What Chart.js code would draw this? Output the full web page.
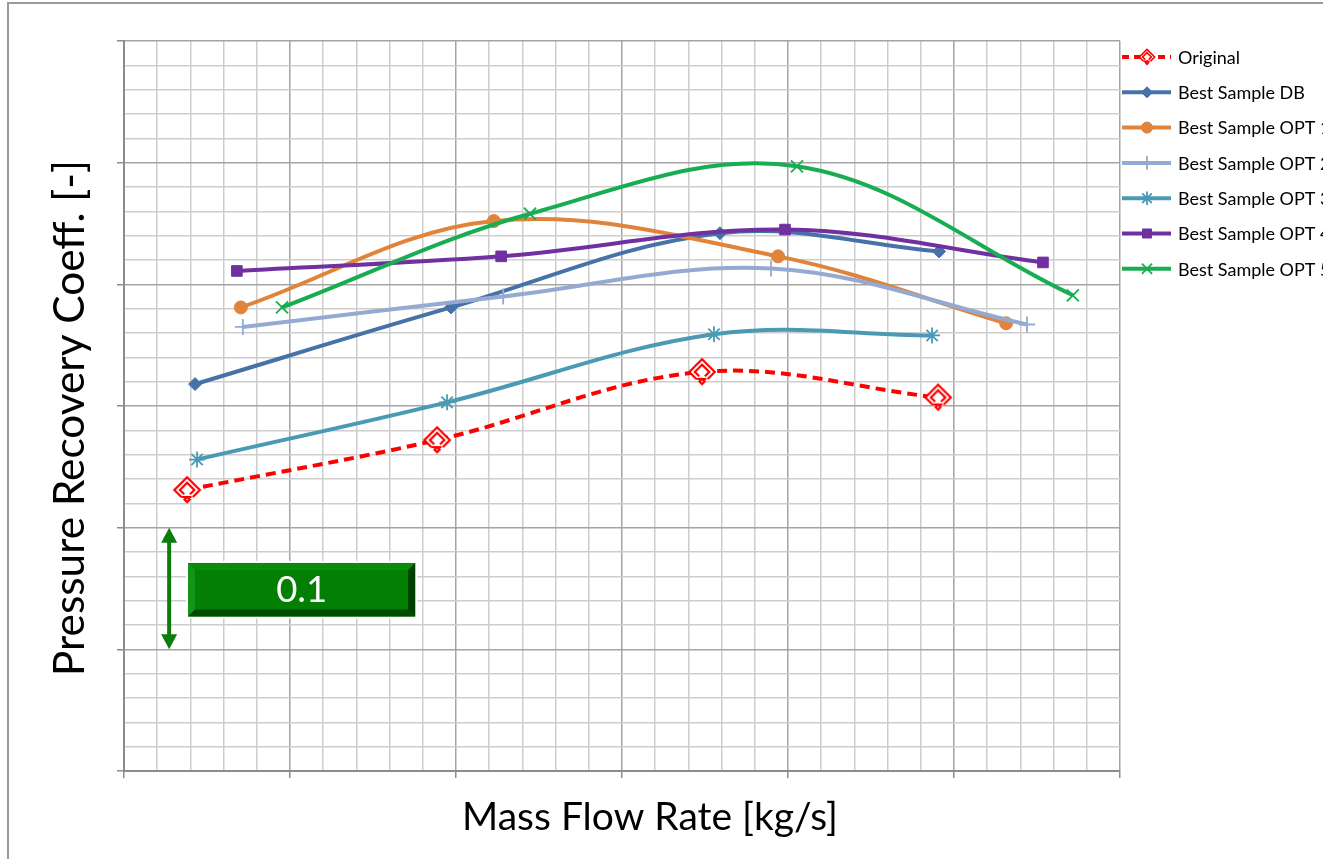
<!DOCTYPE html>
<html><head><meta charset="utf-8">
<script src="https://cdn.jsdelivr.net/npm/chart.js@4/dist/chart.umd.min.js"></script>
<style>html,body{margin:0;padding:0;background:#fff;overflow:hidden}#wrap{width:1323px;height:859px;position:relative}</style>
</head><body><div id="wrap"><canvas id="c" width="1323" height="859"></canvas></div>
<script>
// ---- data ----
const seriesNames = ['Original','Best Sample DB','Best Sample OPT 1','Best Sample OPT 2','Best Sample OPT 3','Best Sample OPT 4','Best Sample OPT 5'];
const originalX = [1.90, 9.43, 17.41, 24.52];
const originalY = [0.231, 0.272, 0.328, 0.307];
const dbX = [2.14, 9.85, 17.95, 24.55];
const dbY = [0.318, 0.381, 0.442, 0.427];
const opt1X = [3.52, 11.14, 19.70, 26.57];
const opt1Y = [0.381, 0.452, 0.423, 0.368];
const opt2X = [3.58, 11.42, 19.49, 27.20];
const opt2Y = [0.365, 0.390, 0.413, 0.367];
const opt3X = [2.20, 9.73, 17.77, 24.34];
const opt3Y = [0.256, 0.303, 0.359, 0.358];
const opt4X = [3.40, 11.36, 19.91, 27.68];
const opt4Y = [0.411, 0.423, 0.445, 0.418];
const opt5X = [4.76, 12.23, 20.27, 28.58];
const opt5Y = [0.381, 0.458, 0.497, 0.391];
const xTitle = 'Mass Flow Rate [kg/s]';
const yTitle = 'Pressure Recovery Coeff. [-]';
const scaleLabel = '0.1';

const pairs = (xs, ys) => xs.map((x, i) => ({x, y: ys[i]}));

// picture-like marker for "Original"
function makeGlyph(s, lw) {
  const c = document.createElement('canvas'); c.width = c.height = s;
  const g = c.getContext('2d');
  g.translate(s/2, s/2); g.rotate(Math.PI/4);
  const a = s*0.30, b = s*0.17;
  g.fillStyle = '#fff'; g.fillRect(-a, -a, 2*a, 2*a);
  g.strokeStyle = '#ff0000'; g.lineWidth = lw;
  g.beginPath(); g.moveTo(a, a*0.1); g.lineTo(a, -a); g.lineTo(-a, -a); g.lineTo(-a, a); g.lineTo(a*0.1, a); g.stroke();
  g.beginPath(); g.moveTo(b, b*0.2); g.lineTo(b, -b); g.lineTo(-b, -b); g.lineTo(-b, b); g.lineTo(b*0.2, b); g.stroke();
  g.beginPath(); g.moveTo(a*0.1, a); g.lineTo(a*0.9, a*0.2); g.stroke();
  g.beginPath(); g.rect(a*0.55, a*0.55, a*0.4, a*0.4); g.stroke();
  return c;
}
const glyphBig = makeGlyph(30, 2.2), glyphSmall = makeGlyph(18, 1.6);

const colors = ['#ff0000','#4672a8','#e0843c','#94aad2','#4a9ab4','#7030a0','#18ad52'];
const styles = [glyphBig,'rectRot','circle','cross','star','rect','crossRot'];
const radii = [8,6.5,6.5,8,8,7.5,8.5];
const xsAll = [originalX, dbX, opt1X, opt2X, opt3X, opt4X, opt5X];
const ysAll = [originalY, dbY, opt1Y, opt2Y, opt3Y, opt4Y, opt5Y];

const datasets = seriesNames.map((name, i) => ({
  label: name,
  data: pairs(xsAll[i], ysAll[i]),
  borderColor: colors[i],
  backgroundColor: colors[i],
  borderWidth: 4,
  borderDash: i === 0 ? [10, 6] : [],
  pointStyle: styles[i],
  pointRadius: radii[i],
  pointBorderWidth: (i === 3 || i === 4 || i === 6) ? 1.8 : 1,
  pointBorderColor: colors[i],
  pointBackgroundColor: colors[i],
  showLine: true,
  tension: 0.36,
  order: seriesNames.length - i
}));

function fitFont(ctx, text, width, family) {
  ctx.font = '40px ' + family;
  const w = ctx.measureText(text).width;
  return 40 * width / w;
}
const FAMILY = 'Lato, "Open Sans", sans-serif';

const decor = {
  id: 'decor',
  beforeDraw(chart) {
    const ctx = chart.ctx;
    ctx.save();
    ctx.fillStyle = '#fff'; ctx.fillRect(0, 0, chart.width, chart.height);
    ctx.strokeStyle = '#9a9a9a'; ctx.lineWidth = 2;
    ctx.strokeRect(8, 3, 2000, 2000);
    ctx.restore();
  },
  afterDraw(chart) {
    const ctx = chart.ctx, xs = chart.scales.x, ys = chart.scales.y;
    ctx.save();
    // axis titles
    ctx.fillStyle = '#000'; ctx.textAlign = 'center'; ctx.textBaseline = 'middle';
    let f = fitFont(ctx, xTitle, 376, FAMILY);
    ctx.font = f + 'px ' + FAMILY; ctx.fillText(xTitle, 650, 817);
    f = fitFont(ctx, yTitle, 516, FAMILY);
    ctx.save(); ctx.translate(70, 418); ctx.rotate(-Math.PI/2);
    ctx.font = f + 'px ' + FAMILY; ctx.fillText(yTitle, 0, 0); ctx.restore();

    // legend
    const lf = fitFont(ctx, 'Original', 62, FAMILY);
    chart.data.datasets.forEach((ds, i) => {
      const y = 57 + i * 35.3;
      ctx.save();
      ctx.strokeStyle = ds.borderColor; ctx.lineWidth = 4;
      ctx.setLineDash(i === 0 ? [7, 5] : []);
      ctx.beginPath(); ctx.moveTo(1122, y); ctx.lineTo(1171, y); ctx.stroke();
      ctx.setLineDash([]);
      if (i === 0) {
        ctx.drawImage(glyphSmall, 1147 - glyphSmall.width/2, y - glyphSmall.height/2);
      } else {
        ctx.fillStyle = ds.pointBackgroundColor; ctx.strokeStyle = ds.pointBorderColor;
        ctx.lineWidth = ds.pointBorderWidth;
        Chart.helpers.drawPoint(ctx, {pointStyle: ds.pointStyle, radius: ds.pointRadius * 0.85, rotation: 0, borderWidth: ds.pointBorderWidth}, 1147, y);
      }
      ctx.restore();
      ctx.fillStyle = '#000'; ctx.textAlign = 'left'; ctx.textBaseline = 'middle';
      ctx.font = lf + 'px ' + FAMILY;
      ctx.fillText(ds.label, 1178, y + 1);
    });

    // scale annotation: double arrow spanning 0.1 and labelled box
    const ax = xs.getPixelForValue(1.36);
    const aTop = ys.getPixelForValue(0.2), aBot = ys.getPixelForValue(0.1);
    ctx.fillStyle = '#0b7d0b'; ctx.strokeStyle = '#0b7d0b'; ctx.lineWidth = 4;
    ctx.beginPath(); ctx.moveTo(ax, aTop + 12); ctx.lineTo(ax, aBot - 12); ctx.stroke();
    ctx.beginPath(); ctx.moveTo(ax, aTop); ctx.lineTo(ax - 8, aTop + 15); ctx.lineTo(ax + 8, aTop + 15); ctx.closePath(); ctx.fill();
    ctx.beginPath(); ctx.moveTo(ax, aBot); ctx.lineTo(ax - 8, aBot - 15); ctx.lineTo(ax + 8, aBot - 15); ctx.closePath(); ctx.fill();

    const bx0 = xs.getPixelForValue(1.93), bx1 = xs.getPixelForValue(8.77);
    const by0 = ys.getPixelForValue(0.171), by1 = ys.getPixelForValue(0.127);
    const bw = bx1 - bx0, bh = by1 - by0, bv = 7;
    ctx.fillStyle = '#fff'; ctx.fillRect(bx0 - 2, by0 - 2, bw + 4, bh + 4);
    ctx.fillStyle = '#037f03'; ctx.fillRect(bx0, by0, bw, bh);
    const poly = (pts, col) => { ctx.fillStyle = col; ctx.beginPath(); ctx.moveTo(pts[0], pts[1]); for (let k = 2; k < pts.length; k += 2) ctx.lineTo(pts[k], pts[k+1]); ctx.closePath(); ctx.fill(); };
    poly([bx0, by0, bx1, by0, bx1 - bv, by0 + bv, bx0 + bv, by0 + bv], '#0a8c0a');
    poly([bx0, by0, bx0 + bv, by0 + bv, bx0 + bv, by1 - bv, bx0, by1], '#13941a');
    poly([bx0, by1, bx0 + bv, by1 - bv, bx1 - bv, by1 - bv, bx1, by1], '#004d00');
    poly([bx1, by0, bx1, by1, bx1 - bv, by1 - bv, bx1 - bv, by0 + bv], '#003f00');
    ctx.fillStyle = '#fff'; ctx.textAlign = 'center'; ctx.textBaseline = 'middle';
    const tf = fitFont(ctx, scaleLabel, 51, FAMILY);
    ctx.font = tf + 'px ' + FAMILY;
    ctx.fillText(scaleLabel, (bx0 + bx1) / 2, (by0 + by1) / 2 + 1);
    ctx.restore();
  }
};

const gridOpts = {
  color: c => c.index % 5 === 0 ? '#a4a4a4' : '#cdcdcd',
  lineWidth: 1.5,
  tickColor: c => c.index % 5 === 0 ? '#8c8c8c' : 'rgba(0,0,0,0)',
  tickLength: 7,
  drawTicks: true
};

new Chart(document.getElementById('c'), {
  type: 'scatter',
  data: { datasets },
  options: {
    responsive: false,
    animation: false,
    layout: { padding: { left: 0, top: 41, right: 203, bottom: 0 } },
    plugins: { legend: { display: false }, tooltip: { enabled: false } },
    scales: {
      x: {
        type: 'linear', min: 0, max: 30,
        ticks: { display: false, stepSize: 1 },
        grid: gridOpts,
        border: { color: '#8c8c8c', width: 2 },
        afterFit: s => { s.height = 88; }
      },
      y: {
        type: 'linear', min: 0, max: 0.6,
        ticks: { display: false, stepSize: 0.02 },
        grid: gridOpts,
        border: { color: '#8c8c8c', width: 2 },
        afterFit: s => { s.width = 124; }
      }
    }
  },
  plugins: [decor]
});
</script></body></html>
